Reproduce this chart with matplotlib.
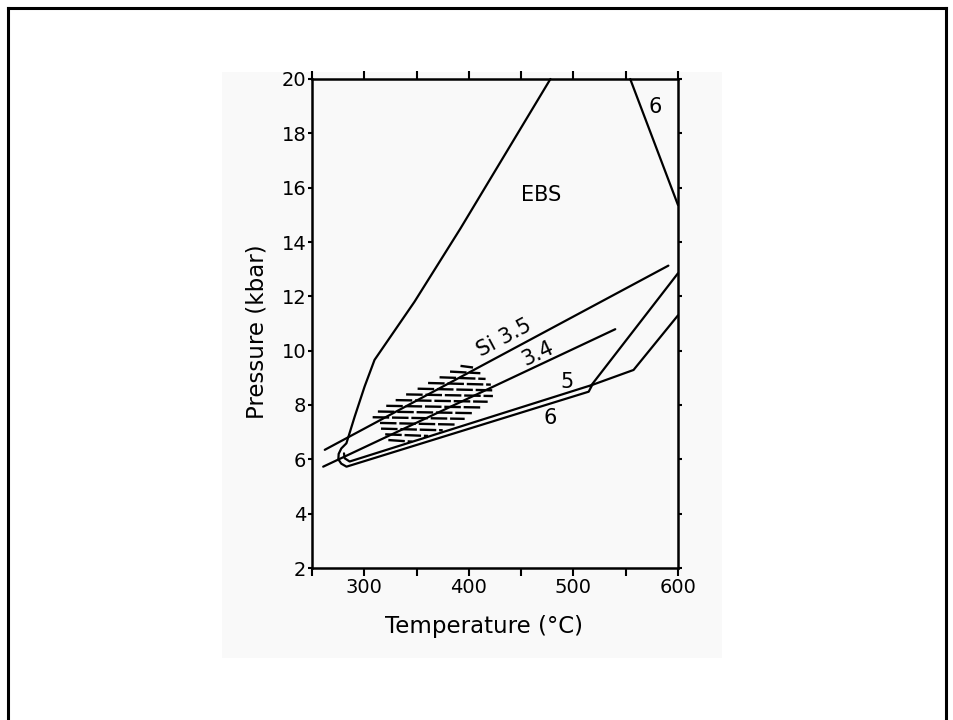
import matplotlib
matplotlib.use("Agg")
import matplotlib.pyplot as plt
from matplotlib.lines import Line2D
from matplotlib.patches import Rectangle
import numpy as np

# ---- data (Temperature in °C, Pressure in kbar) ----
ebs_T = [478, 392, 348, 309.8, 300.3, 290.8, 282.9, 278.0, 275.5, 275.2, 278.0, 283.0, 514.6, 518.0]
ebs_P = [20.0, 14.5, 11.8, 9.66, 8.68, 7.57, 6.59, 6.40, 6.20, 6.00, 5.84, 5.73, 8.49, 8.74]

line5_T = [280.6, 281.2, 286.0, 518.0]
line5_P = [6.22, 6.04, 5.92, 8.74]

kink_T = [518.0, 557.5, 600.0]
kink_P = [8.74, 9.29, 11.30]

steep_T = [516.2, 600.0]
steep_P = [8.68, 12.85]

top6_T = [554.3, 600.0]
top6_P = [20.0, 15.36]

si35_T = [262.2, 590.8]
si35_P = [6.35, 13.13]

si34_T = [260.7, 540.0]
si34_P = [5.73, 10.79]

# hatched rows: pressure of each row and its temperature extent
hatch_P = [9.44, 9.23, 9.02, 8.81, 8.60, 8.39, 8.18, 7.97, 7.76, 7.55, 7.34, 7.13, 6.92, 6.71]
hatch_T0 = [392, 382, 372, 361, 351, 340, 330, 321, 313, 308, 315, 316, 320, 323]
hatch_T1 = [404, 411, 416, 421, 423, 423, 418, 411, 404, 396, 387, 375, 361, 346]

xticks = [300, 400, 500, 600]
xminor = [250, 350, 450, 550]
yticks = [2, 4, 6, 8, 10, 12, 14, 16, 18, 20]

W, H = 954, 720
fig = plt.figure(figsize=(W / 100, H / 100), dpi=100)
fig.patch.set_facecolor("white")

# faint scanned-page background
fig.patches.append(Rectangle((222 / W, 1 - 658 / H), 500 / W, 586 / H,
                             transform=fig.transFigure, facecolor="#f9f9f9",
                             edgecolor="none", zorder=-5))
# outer frame
for xs, ys in [([8, 8], [8, 720]), ([8, 946], [8, 8]), ([946, 946], [8, 720])]:
    fig.lines.append(Line2D([x / W for x in xs], [1 - y / H for y in ys],
                            transform=fig.transFigure, color="black", lw=2.2,
                            zorder=-4))

ax = fig.add_axes([312 / W, 1 - 568 / H, 366 / W, 489 / H])
ax.set_zorder(2)
ax.patch.set_alpha(0)
ax.set_xlim(250, 600)
ax.set_ylim(2, 20)

lw = 1.6
kw = dict(color="black", lw=lw, solid_joinstyle="round", solid_capstyle="round", clip_on=False)
ax.plot(ebs_T, ebs_P, **kw)
ax.plot(line5_T, line5_P, **kw)
ax.plot(kink_T, kink_P, **kw)
ax.plot(steep_T, steep_P, **kw)
ax.plot(top6_T, top6_P, **kw)
ax.plot(si35_T, si35_P, **kw)
ax.plot(si34_T, si34_P, **kw)

for p, t0, t1 in zip(hatch_P, hatch_T0, hatch_T1):
    ax.plot([t0, t1], [p, p - 0.06], color="black", lw=1.7,
            linestyle=(0, (7, 1.2)), solid_capstyle="butt")

txt = dict(fontsize=15, color="black", ha="center", va="center")
ax.text(469, 15.73, "EBS", **txt)
ax.text(578, 18.98, "6", **txt)
ax.text(434, 10.47, "Si 3.5", rotation=28, rotation_mode="anchor", **txt)
ax.text(466, 9.90, "3.4", rotation=25, rotation_mode="anchor", **txt)
ax.text(494, 8.86, "5", **txt)
ax.text(478, 7.51, "6", **txt)

for s in ax.spines.values():
    s.set_linewidth(1.8)

ax.set_xticks(xticks)
ax.set_xticks(xminor, minor=True)
ax.set_yticks(yticks)
ax.tick_params(axis="x", which="both", direction="out", length=6, width=1.5,
               labelsize=14, pad=1, top=True)
ax.tick_params(axis="y", which="both", direction="out", length=3, width=1.5,
               labelsize=14, pad=1, right=True)

fig.text(257 / W, 1 - 332 / H, "Pressure (kbar)", rotation=90, fontsize=16.5,
         ha="center", va="center")
fig.text(484 / W, 1 - 627 / H, "Temperature (°C)", fontsize=16.5,
         ha="center", va="center")

fig.savefig("out.png", dpi=100, facecolor="white")
